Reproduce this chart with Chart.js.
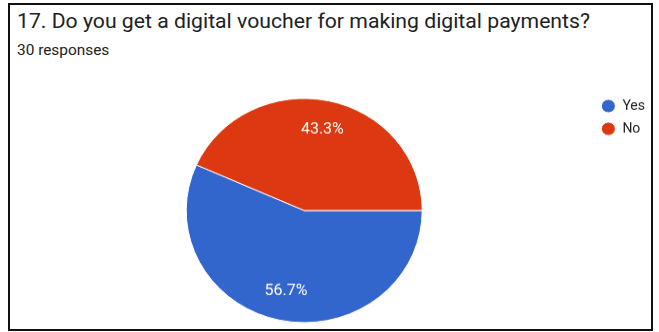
<!DOCTYPE html>
<html>
<head>
<meta charset="utf-8">
<script src="https://cdn.jsdelivr.net/npm/chart.js@4"></script>
<style>
  html, body { margin: 0; padding: 0; background: #fff; }
  body { width: 659px; height: 332px; position: relative; overflow: hidden; font-family: Roboto, "Noto Sans", sans-serif; }
  .frame { position: absolute; left: 8px; top: 3px; width: 645px; height: 328px; border: 2px solid #111; box-sizing: border-box; }
  .title { position: absolute; left: 17px; top: 10px; font-size: 20px; line-height: 22px; color: #202124; white-space: nowrap; transform: scaleX(1.06); transform-origin: left top; }
  .sub { position: absolute; left: 17px; top: 42px; font-size: 14px; line-height: 16px; color: #202124; white-space: nowrap; transform: scaleX(1.1); transform-origin: left top; }
  .pie-wrap { position: absolute; left: 0; top: 86.5px; width: 659px; height: 257px; transform: scaleY(0.95); transform-origin: top left; }
</style>
</head>
<body>
<div class="frame"></div>
<div class="title">17. Do you get a digital voucher for making digital payments?</div>
<div class="sub">30 responses</div>
<div class="pie-wrap"><canvas id="voucherPie"></canvas></div>

<script>
// ===== Question 17 answers =====
const answers = ["Yes", "No"];
const answerCounts = [17, 13];
const answerColors = ["#3366cc", "#dc3912"];

const totalResponses = answerCounts.reduce((a, b) => a + b, 0);

// percent text inside each slice
const sliceLabels = {
  id: "sliceLabels",
  afterDatasetsDraw(chart) {
    const { ctx } = chart;
    const meta = chart.getDatasetMeta(0);
    ctx.save();
    ctx.fillStyle = "#ffffff";
    ctx.font = "16px Roboto, sans-serif";
    ctx.textAlign = "center";
    ctx.textBaseline = "middle";
    meta.data.forEach((arc, i) => {
      const { x, y, startAngle, endAngle, outerRadius } = arc.getProps(["x", "y", "startAngle", "endAngle", "outerRadius"], true);
      const mid = (startAngle + endAngle) / 2;
      const r = outerRadius * 0.74;
      const pct = (answerCounts[i] / totalResponses * 100).toFixed(1) + "%";
      ctx.fillText(pct, x + Math.cos(mid) * r, y + Math.sin(mid) * r);
    });
    ctx.restore();
  }
};

const ctx = document.getElementById("voucherPie");

new Chart(ctx, {
  type: "pie",
  data: {
    labels: answers,
    datasets: [
      {
        data: answerCounts,
        backgroundColor: answerColors,
        borderColor: "#ffffff",
        borderWidth: 1,
        radius: 118,
      },
    ],
  },
  options: {
    responsive: true,
    maintainAspectRatio: false,
    animation: false,
    rotation: 90,
    layout: { padding: { top: 3, bottom: 0, left: 17, right: 4 } },
    plugins: {
      legend: {
        position: "right",
        align: "start",
        labels: {
          usePointStyle: true,
          pointStyle: "circle",
          pointStyleWidth: 14,
          boxHeight: 10,
          padding: 10,
          color: "#222222",
          font: { family: "Roboto", size: 14 },
        },
      },
      tooltip: { enabled: false },
    },
  },
  plugins: [sliceLabels],
});
</script>
</body>
</html>
